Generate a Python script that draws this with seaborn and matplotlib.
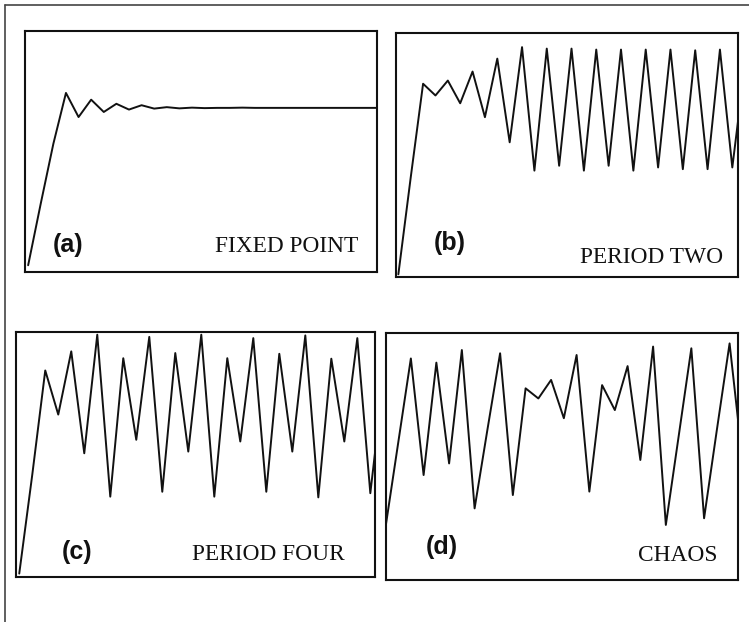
import numpy as np
import matplotlib
matplotlib.use("Agg")
import matplotlib.pyplot as plt
from matplotlib.lines import Line2D
import seaborn as sns

# values, scaled 0..1 inside each box
fixed_point = [0.028, 0.284, 0.532, 0.743, 0.643, 0.715, 0.664, 0.698, 0.674, 0.692,
               0.678, 0.684, 0.679, 0.682, 0.680, 0.681, 0.681, 0.682, 0.681, 0.681,
               0.681, 0.681, 0.681, 0.681, 0.681, 0.681, 0.681, 0.681, 0.681]
period_two = [0.011, 0.408, 0.792, 0.744, 0.805, 0.712, 0.842, 0.655, 0.895, 0.552,
              0.942, 0.436, 0.936, 0.456, 0.936, 0.436, 0.932, 0.456, 0.932, 0.436,
              0.932, 0.449, 0.932, 0.442, 0.929, 0.442, 0.932, 0.449, 0.860]
period_four = [0.014, 0.417, 0.843, 0.663, 0.921, 0.505, 0.989, 0.328, 0.893, 0.560,
               0.980, 0.348, 0.914, 0.512, 0.989, 0.328, 0.893, 0.553, 0.975, 0.348,
               0.911, 0.512, 0.986, 0.325, 0.891, 0.553, 0.975, 0.342, 0.800]
chaos = [0.209, 0.553, 0.897, 0.425, 0.880, 0.472, 0.931, 0.290, 0.607, 0.918,
         0.344, 0.776, 0.735, 0.810, 0.655, 0.911, 0.358, 0.789, 0.688, 0.866,
         0.486, 0.945, 0.223, 0.580, 0.938, 0.250, 0.607, 0.958, 0.490]

tags = ["(a)", "(b)", "(c)", "(d)"]
names = ["FIXED POINT", "PERIOD TWO", "PERIOD FOUR", "CHAOS"]

sns.set_style("white")

W, H = 749, 622
fig = plt.figure(figsize=(W / 100, H / 100), dpi=100)

# box in pixels (left, top, right, bottom), x range, tag pos, name pos
layout = [
    ((25, 31, 377, 272), (-0.25, 27.68), (0.08, 0.11), (0.946, 0.104)),
    ((396, 33, 738, 277), (-0.19, 27.46), (0.11, 0.14), (0.957, 0.078)),
    ((16, 332, 375, 577), (-0.25, 27.36), (0.128, 0.10), (0.916, 0.09)),
    ((386, 333, 738, 580), (0.05, 27.66), (0.112, 0.132), (0.943, 0.101)),
]
series = [fixed_point, period_two, period_four, chaos]

for vals, tag, name, (box, xl, tpos, npos) in zip(series, tags, names, layout):
    l, t, r, b = box
    ax = fig.add_axes([l / W, (H - b) / H, (r - l) / W, (b - t) / H])
    sns.lineplot(x=np.arange(len(vals)), y=vals, ax=ax, color="#111111", linewidth=1.4)
    ax.set_xlim(*xl)
    ax.set_ylim(0, 1)
    ax.set_xticks([])
    ax.set_yticks([])
    ax.set_xlabel("")
    ax.set_ylabel("")
    for s in ax.spines.values():
        s.set_linewidth(1.5)
        s.set_color("#111111")
    ax.text(tpos[0], tpos[1], tag, transform=ax.transAxes, ha="left", va="center",
            fontsize=18, fontweight="bold", family="Liberation Sans", color="#111111")
    ax.text(npos[0], npos[1], name, transform=ax.transAxes, ha="right", va="center",
            fontsize=16.8, family="Liberation Serif", color="#111111")

# outer border of the scanned page (top and left only)
fig.add_artist(Line2D([5 / W, 5 / W], [0, 1 - 5 / H], transform=fig.transFigure,
                      color="#444444", linewidth=1.2))
fig.add_artist(Line2D([5 / W, 1], [1 - 5 / H, 1 - 5 / H], transform=fig.transFigure,
                      color="#444444", linewidth=1.2))

fig.savefig("out.png", dpi=100)
